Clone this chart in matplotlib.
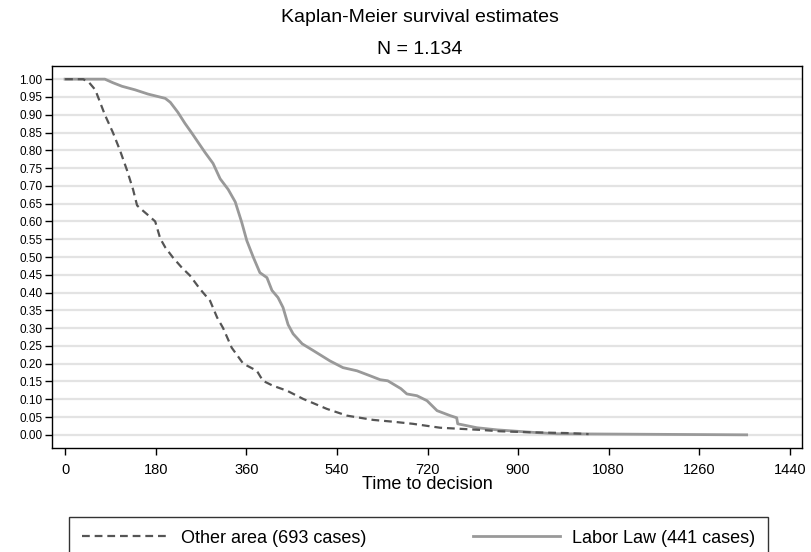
import numpy as np
import matplotlib.pyplot as plt
from matplotlib.lines import Line2D

plt.rcParams.update({
    'font.family': ['Liberation Sans', 'DejaVu Sans'],
})

# Kaplan-Meier curves (days, survival)
other_days = [0, 36, 48, 60, 79, 95, 109, 123, 135, 143, 149, 163, 179, 189, 199, 214,
              232, 248, 268, 288, 302, 314, 331, 354, 381, 393, 413, 441, 473, 520,
              560, 612, 651, 691, 745, 784, 824, 864, 929, 997, 1029, 1040]
other_surv = [1.00, 1.00, 0.99, 0.97, 0.90, 0.85, 0.80, 0.744, 0.69, 0.645, 0.637, 0.62,
              0.60, 0.552, 0.527, 0.499, 0.47, 0.448, 0.41, 0.377, 0.33, 0.30, 0.245,
              0.20, 0.18, 0.152, 0.138, 0.124, 0.101, 0.073, 0.054, 0.042, 0.037, 0.031,
              0.02, 0.017, 0.014, 0.01, 0.007, 0.005, 0.003, 0.002]

labor_days = [0, 79, 95, 113, 139, 165, 199, 209, 224, 238, 252, 264, 278, 294, 308, 324,
              338, 351, 361, 374, 387, 401, 411, 423, 433, 443, 453, 471, 493, 526, 552,
              580, 606, 626, 641, 667, 679, 699, 719, 739, 765, 778, 780, 818, 858, 929,
              977, 1354]
labor_surv = [1.00, 1.00, 0.99, 0.98, 0.97, 0.958, 0.946, 0.935, 0.907, 0.876, 0.848,
              0.823, 0.794, 0.763, 0.72, 0.69, 0.655, 0.597, 0.546, 0.499, 0.456, 0.442,
              0.406, 0.386, 0.358, 0.31, 0.284, 0.256, 0.237, 0.208, 0.189, 0.18, 0.166,
              0.155, 0.152, 0.13, 0.115, 0.11, 0.096, 0.068, 0.054, 0.048, 0.031, 0.02,
              0.014, 0.007, 0.003, 0.0]

x_ticks = [0, 180, 360, 540, 720, 900, 1080, 1260, 1440]
y_ticks = np.arange(0, 1.0001, 0.05)

labels = ['Other area (693 cases)', 'Labor Law (441 cases)']
colors = ['#555555', '#999999']

fig = plt.figure(figsize=(8.11, 5.52), dpi=100)
ax = fig.add_axes([52 / 811, 1 - 448 / 552, 750 / 811, 382 / 552])

for y in y_ticks:
    ax.axhline(y, color='#e3e3e3', lw=1.6, zorder=0)

ax.plot(other_days, other_surv, color=colors[0], lw=1.6, ls=(0, (3.5, 2.2)), zorder=3)
ax.plot(labor_days, labor_surv, color=colors[1], lw=2.0, zorder=2)

ax.set_xlim(-26, 1464)
ax.set_ylim(-0.037, 1.037)
ax.set_xticks(x_ticks)
ax.set_yticks(y_ticks)
ax.set_yticklabels([f'{v:.2f}' for v in y_ticks], fontsize=8.5)
ax.set_xticklabels([str(v) for v in x_ticks], fontsize=10.5)
ax.tick_params(axis='both', direction='out', length=5, width=1, color='black')
ax.tick_params(axis='x', pad=6)
ax.tick_params(axis='y', pad=2)
for s in ax.spines.values():
    s.set_linewidth(1.0)
ax.set_xlabel('Time to decision', fontsize=13, labelpad=-1)

fig.text(0.518, 1 - 18 / 552, 'Kaplan-Meier survival estimates', ha='center', va='center', fontsize=14)
fig.text(0.518, 1 - 50 / 552, 'N = 1.134', ha='center', va='center', fontsize=14)

handles = [Line2D([], [], color=colors[0], lw=1.6, ls=(0, (3.5, 2.2))),
           Line2D([], [], color=colors[1], lw=2.0)]
leg = fig.legend(handles, labels, loc='upper left', bbox_to_anchor=(69 / 811, 1 - 517 / 552),
                 ncol=2, fontsize=13, frameon=True, fancybox=False, edgecolor='black',
                 handlelength=4.8, handletextpad=0.7, columnspacing=5.9, borderpad=0.7,
                 borderaxespad=0)
leg.get_frame().set_linewidth(1.0)

fig.savefig('out.png', dpi=100)
